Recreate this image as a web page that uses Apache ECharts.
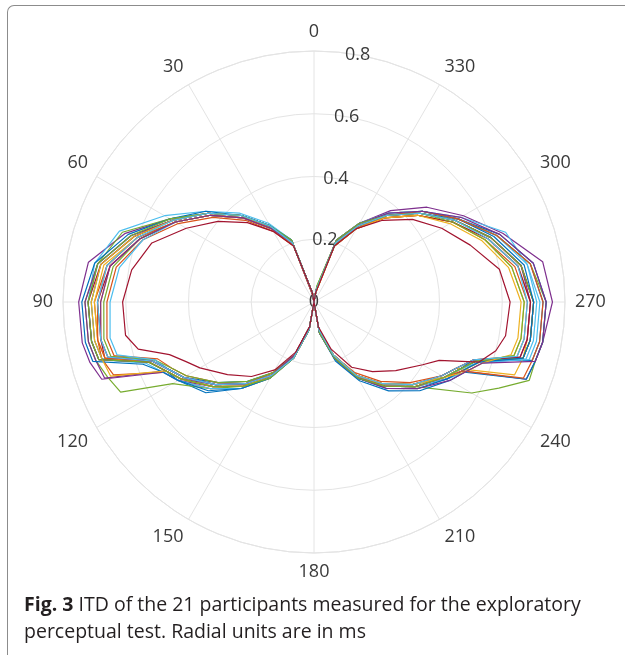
<!DOCTYPE html>
<html>
<head>
<meta charset="utf-8">
<script src="https://cdn.jsdelivr.net/npm/echarts@6/dist/echarts.min.js"></script>
<style>
html,body{margin:0;padding:0;width:625px;height:655px;overflow:hidden;background:#fff;}
#chart{position:absolute;left:0;top:0;width:625px;height:655px;}
#frame{position:absolute;left:7px;top:5px;width:700px;height:700px;border-left:1.5px solid #8c8c8c;border-top:1.5px solid #8c8c8c;border-top-left-radius:7px;pointer-events:none;}
</style>
</head>
<body>
<div id="chart"></div>
<div id="frame"></div>
<script>
// Azimuth (degrees, counter-clockwise from top)
const ANGLES = [0,10,20,30,40,50,60,70,80,90,100,105,110,115,120,130,140,150,160,170,
                180,190,200,210,220,230,240,245,250,255,260,270,280,290,300,310,320,330,340,350,360];
// ITD (ms) of each participant at ANGLES
const P01 = [0,.03,.20,.28,.36,.44,.52,.62,.70,.72,.72,.71,.56,.52,.50,.45,.36,.27,.19,.09, 0,.09,.18,.27,.35,.42,.48,.51,.54,.72,.73,.73,.70,.62,.53,.44,.36,.28,.20,.04,0];
const P02 = [0,.02,.20,.27,.35,.43,.51,.60,.67,.70,.70,.70,.68,.53,.50,.43,.36,.28,.19,.09, 0,.10,.19,.28,.35,.42,.49,.52,.56,.69,.70,.70,.67,.60,.52,.44,.36,.28,.20,.03,0];
const P03 = [0,.03,.19,.27,.35,.43,.51,.59,.66,.68,.69,.68,.55,.51,.48,.41,.34,.26,.18,.08, 0,.09,.18,.27,.34,.41,.47,.50,.68,.69,.69,.69,.66,.59,.51,.43,.35,.27,.19,.04,0];
const P04 = [0,.03,.21,.28,.36,.44,.53,.64,.73,.75,.75,.74,.72,.53,.50,.42,.35,.27,.19,.09, 0,.09,.19,.28,.35,.42,.49,.52,.72,.73,.74,.76,.74,.64,.55,.47,.38,.29,.21,.04,0];
const P05 = [0,.03,.21,.28,.36,.44,.53,.65,.70,.73,.73,.72,.70,.68,.52,.43,.35,.27,.19,.09, 0,.10,.19,.28,.35,.42,.58,.65,.73,.73,.74,.74,.70,.62,.53,.45,.37,.29,.21,.05,0];
const P06 = [0,.03,.21,.29,.37,.45,.55,.66,.71,.72,.72,.71,.57,.53,.50,.43,.36,.28,.19,.09, 0,.09,.19,.28,.35,.42,.49,.53,.57,.70,.71,.71,.69,.65,.54,.45,.37,.29,.21,.04,0];
const P07 = [0,.02,.20,.27,.35,.43,.51,.59,.66,.69,.69,.69,.55,.51,.48,.41,.34,.27,.18,.08, 0,.09,.18,.27,.34,.41,.48,.51,.55,.69,.70,.70,.67,.60,.52,.44,.36,.28,.20,.04,0];
const P08 = [0,.03,.20,.28,.36,.44,.52,.61,.69,.71,.71,.70,.54,.51,.48,.40,.33,.26,.18,.08, 0,.10,.20,.29,.37,.44,.50,.53,.72,.73,.74,.74,.71,.63,.53,.45,.36,.28,.20,.04,0];
const P09 = [0,.03,.19,.26,.34,.42,.50,.58,.64,.66,.67,.66,.53,.50,.47,.40,.34,.26,.18,.08, 0,.09,.18,.26,.33,.40,.47,.50,.54,.67,.68,.68,.65,.58,.51,.43,.35,.27,.19,.03,0];
const P10 = [0,.03,.20,.27,.35,.43,.51,.60,.68,.70,.70,.69,.56,.52,.49,.42,.35,.28,.19,.09, 0,.09,.18,.27,.34,.41,.48,.52,.56,.66,.67,.67,.64,.58,.51,.43,.35,.28,.20,.04,0];
const P11 = [0,.03,.20,.28,.36,.44,.52,.62,.70,.73,.73,.72,.71,.52,.49,.41,.34,.27,.19,.09, 0,.09,.19,.28,.35,.42,.48,.51,.55,.68,.69,.69,.67,.60,.52,.44,.36,.28,.20,.04,0];
const P12 = [0,.03,.20,.27,.35,.43,.51,.59,.65,.67,.68,.67,.54,.50,.47,.40,.33,.26,.18,.08, 0,.09,.18,.27,.34,.41,.48,.51,.55,.69,.70,.70,.67,.60,.52,.44,.36,.28,.20,.04,0];
const P13 = [0,.03,.20,.27,.35,.43,.51,.58,.63,.65,.66,.65,.54,.51,.48,.41,.34,.27,.18,.08, 0,.09,.18,.27,.34,.41,.48,.51,.56,.71,.72,.72,.69,.62,.53,.45,.37,.29,.21,.04,0];
const P14 = [0,.03,.20,.28,.36,.44,.52,.61,.69,.72,.72,.71,.56,.52,.49,.42,.35,.27,.19,.09, 0,.09,.18,.27,.34,.41,.47,.50,.54,.68,.69,.69,.66,.59,.51,.43,.35,.27,.19,.04,0];
const P15 = [0,.03,.21,.28,.36,.45,.53,.63,.71,.74,.74,.73,.58,.53,.50,.44,.36,.28,.19,.09, 0,.10,.19,.28,.36,.43,.49,.52,.56,.69,.70,.70,.68,.61,.53,.45,.36,.28,.20,.04,0];
const P16 = [0,.03,.20,.27,.35,.43,.51,.60,.67,.69,.70,.69,.55,.51,.48,.41,.34,.27,.18,.08, 0,.09,.18,.27,.35,.42,.48,.52,.71,.72,.73,.73,.70,.62,.53,.45,.36,.28,.20,.04,0];
const P17 = [0,.03,.20,.27,.36,.44,.52,.61,.69,.71,.71,.70,.69,.52,.49,.42,.35,.27,.19,.09, 0,.09,.18,.27,.34,.41,.48,.53,.57,.65,.66,.66,.63,.57,.50,.43,.35,.27,.19,.03,0];
const P18 = [0,.03,.20,.27,.35,.43,.51,.59,.66,.68,.69,.68,.55,.51,.48,.41,.34,.27,.18,.08, 0,.10,.19,.28,.36,.43,.50,.53,.57,.73,.74,.74,.71,.63,.54,.45,.37,.29,.21,.04,0];
const P19 = [0,.03,.21,.28,.36,.44,.53,.62,.70,.72,.72,.71,.56,.52,.49,.42,.35,.28,.19,.09, 0,.10,.19,.28,.35,.42,.48,.51,.55,.66,.67,.67,.64,.58,.51,.44,.36,.29,.21,.05,0];
const P20 = [0,.03,.20,.28,.36,.44,.52,.60,.67,.69,.69,.68,.55,.51,.48,.41,.34,.27,.19,.09, 0,.09,.18,.27,.34,.41,.47,.50,.54,.67,.68,.68,.66,.59,.52,.44,.36,.28,.20,.04,0];
const P21 = [0,.03,.19,.26,.33,.40,.47,.55,.59,.61,.61,.58,.49,.45,.42,.36,.31,.25,.17,.08, 0,.08,.16,.24,.29,.34,.40,.44,.56,.60,.62,.625,.60,.53,.47,.41,.34,.27,.19,.03,0];
const PARTICIPANTS = [P01,P02,P03,P04,P05,P06,P07,P08,P09,P10,P11,P12,P13,P14,P15,P16,P17,P18,P19,P20,P21];
const COLORS = ['#0072BD','#D95319','#EDB120','#7E2F8E','#77AC30','#4DBEEE','#A2142F'];
const ANGLE_MIN = 0, ANGLE_MAX = 360, ANGLE_STEP = 30;
const R_MIN = 0, R_MAX = 0.8, R_STEP = 0.2;
const CAPTION_BOLD = 'Fig. 3';
const CAPTION = ' ITD of the 21 participants measured for the exploratory\nperceptual test. Radial units are in ms';

const chart = echarts.init(document.getElementById('chart'), null, {renderer:'canvas'});
const FONT = 'Open Sans';
const GRID = '#e4e4e4';
const series = PARTICIPANTS.map((p, i) => ({
  type: 'line',
  coordinateSystem: 'polar',
  polarIndex: 0,
  showSymbol: false,
  symbol: 'none',
  silent: true,
  lineStyle: {color: COLORS[i % COLORS.length], width: 1.2},
  data: ANGLES.map((a, j) => [p[j], a])
}));
chart.setOption({
  animation: false,
  backgroundColor: '#ffffff',
  title: {
    left: 19, top: 587,
    text: '{b|' + CAPTION_BOLD + '}' + CAPTION,
    textStyle: {fontFamily: FONT, fontSize: 19.5, color: '#231f20', fontWeight: 'normal', lineHeight: 27,
      rich: {b: {fontFamily: FONT, fontSize: 19.5, fontWeight: 'bold', color: '#231f20', lineHeight: 27}}}
  },
  polar: [
    {center: [314, 302], radius: 251},
    {center: [314, 302], radius: 251}
  ],
  angleAxis: [
    {polarIndex: 0, type: 'value', min: ANGLE_MIN, max: ANGLE_MAX, interval: ANGLE_STEP, startAngle: 90, clockwise: false,
     axisLine: {show: true, lineStyle: {color: GRID, width: 1}},
     axisTick: {show: false},
     axisLabel: {margin: 10, fontSize: 18, fontFamily: FONT, color: '#3a3a3a', formatter: v => v >= 360 ? '' : String(v)},
     splitLine: {show: true, lineStyle: {color: GRID, width: 1}}},
    {polarIndex: 1, type: 'value', min: ANGLE_MIN, max: ANGLE_MAX, startAngle: 80, clockwise: false, show: false}
  ],
  radiusAxis: [
    {polarIndex: 0, type: 'value', min: R_MIN, max: R_MAX, interval: R_STEP,
     axisLine: {show: false}, axisTick: {show: false}, axisLabel: {show: false},
     splitLine: {show: true, lineStyle: {color: GRID, width: 1}}},
    {polarIndex: 1, type: 'value', min: R_MIN, max: R_MAX, interval: R_STEP,
     axisLine: {show: false}, axisTick: {show: false}, splitLine: {show: false},
     axisLabel: {show: true, margin: 0, align: 'center', verticalAlign: 'middle', fontSize: 18, fontFamily: FONT, color: '#3a3a3a',
       formatter: v => v === 0 ? '0' : v.toFixed(1)}}
  ],
  series: series
});
</script>
</body>
</html>
